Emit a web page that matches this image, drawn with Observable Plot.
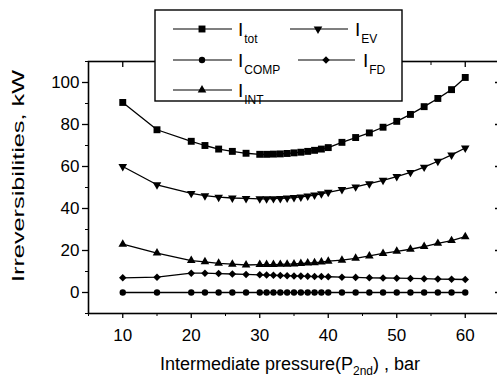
<!DOCTYPE html>
<html><head><meta charset="utf-8">
<script src="https://cdn.jsdelivr.net/npm/d3@7"></script>
<script src="https://cdn.jsdelivr.net/npm/@observablehq/plot@0.6"></script>
<style>html,body{margin:0;padding:0;background:#fff;overflow:hidden;} svg{max-width:none !important;}</style>
</head><body><div id="chart"></div>
<script>
const pressures = [10,15,20,22,24,26,28,30,31,32,33,34,35,36,37,38,39,40,42,44,46,48,50,52,54,56,58,60];
const iTot  = [90.5,77.5,72,70,68.3,67.2,66.3,65.8,65.8,65.9,66,66.2,66.5,66.8,67.2,67.7,68.3,69,71.5,73.8,76,78.7,81.5,84.8,88.5,92.4,96.6,102.4];
const iEV   = [60,51.3,47.2,46.1,45.4,45,44.8,44.6,44.6,44.7,44.8,45,45.2,45.5,45.9,46.4,47,47.7,49,50.3,51.8,53.4,55.2,57.2,59.7,62.5,65.5,68.8];
const iCOMP = [0,0,0,0,0,0,0,0,0,0,0,0,0,0,0,0,0,0,0,0,0,0,0,0,0,0,0,0];
const iFD   = [7,7.3,9.2,9.2,9,8.8,8.6,8.4,8.3,8.2,8.1,8,7.9,7.8,7.7,7.6,7.6,7.5,7.3,7.2,7.0,6.9,6.8,6.7,6.6,6.4,6.3,6.2];
const iINT  = [23,18.8,15.2,14.6,13.9,13.5,13.1,13.3,13.3,13.3,13.4,13.5,13.6,13.8,14,14.2,14.5,14.9,15.4,16.3,17.4,18.6,19.6,20.6,21.9,23.4,24.7,26.6];
const xTicks = [10,20,30,40,50,60];
const xMinor = [5,15,25,35,45,55,65];
const yTicks = [0,20,40,60,80,100];
const yMinor = [-10,10,30,50,70,90,110];
const xTitle = ["Intermediate pressure(P", "2nd", ") , bar"];
const yTitle = "Irreversibilities, kW";

const triangleDown = {draw(c, size){const s3=Math.sqrt(3); const y=-Math.sqrt(size/(s3*3)); c.moveTo(0,-y*2); c.lineTo(-s3*y,y); c.lineTo(s3*y,y); c.closePath();}};
const diamondSq = {draw(c, size){const a=Math.sqrt(size/2); c.moveTo(0,-a); c.lineTo(a,0); c.lineTo(0,a); c.lineTo(-a,0); c.closePath();}};

const series = [
  {key:"tot", sub:"tot", values:iTot, symbol:"square", r:3.9},
  {key:"EV", sub:"EV", values:iEV, symbol:triangleDown, r:3.2},
  {key:"COMP", sub:"COMP", values:iCOMP, symbol:"circle", r:3.2},
  {key:"FD", sub:"FD", values:iFD, symbol:diamondSq, r:3.0},
  {key:"INT", sub:"INT", values:iINT, symbol:"triangle", r:3.2}
];

const font = "'Liberation Sans', Arial, Helvetica, sans-serif";
const marks = [
  Plot.axisX({ticks:xTicks, tickSize:5, tickPadding:10, fontSize:17, label:null, strokeWidth:1.3}),
  Plot.axisX({ticks:xMinor, tickSize:3, tickFormat:()=>"", label:null}),
  Plot.axisX({anchor:"top", ticks:xTicks, tickSize:-5, tickFormat:()=>"", label:null, strokeWidth:1.3}),
  Plot.axisX({anchor:"top", ticks:xMinor, tickSize:-3, tickFormat:()=>"", label:null}),
  Plot.axisY({ticks:yTicks, tickSize:6, tickPadding:3, fontSize:17, label:null, strokeWidth:1.3}),
  Plot.axisY({ticks:yMinor, tickSize:3, tickFormat:()=>"", label:null}),
  Plot.axisY({anchor:"right", ticks:yTicks, tickSize:-5, tickFormat:()=>"", label:null, strokeWidth:1.3}),
  Plot.axisY({anchor:"right", ticks:yMinor, tickSize:-3, tickFormat:()=>"", label:null}),
  Plot.frame({stroke:"black", strokeWidth:1.6})
];
for (const s of series) {
  const data = pressures.map((p,i)=>({p, v:s.values[i]}));
  marks.push(Plot.line(data, {x:"p", y:"v", stroke:"black", strokeWidth:1.3}));
  marks.push(Plot.dot(data, {x:"p", y:"v", symbol:s.symbol, r:s.r, fill:"black", stroke:"none"}));
}

const chart = Plot.plot({
  width:500, height:378,
  marginLeft:88, marginRight:1, marginTop:61, marginBottom:65,
  x:{domain:[5,65]}, y:{domain:[-10,110]},
  style:{fontFamily:font, fontSize:"17px", color:"black", background:"white", maxWidth:"none"},
  marks
});
document.getElementById("chart").appendChild(chart);

const svg = d3.select(chart);
// x title
const xt = svg.append("text").attr("x",290).attr("y",370).attr("text-anchor","middle")
  .attr("font-family",font).attr("font-size",18).attr("fill","black");
xt.append("tspan").text(xTitle[0]);
xt.append("tspan").attr("font-size",12).attr("dy",5).text(xTitle[1]);
xt.append("tspan").attr("dy",-5).text(xTitle[2]);
// y title
svg.append("text").attr("transform","translate(24,176) rotate(-90)").attr("text-anchor","middle")
  .attr("font-family",font).attr("font-size",17).attr("fill","black")
  .attr("textLength",212).attr("lengthAdjust","spacingAndGlyphs").text(yTitle);

// legend
const lg = svg.append("g").attr("text-anchor","start");
lg.append("rect").attr("x",155).attr("y",10).attr("width",247).attr("height",91)
  .attr("fill","white").attr("stroke","black").attr("stroke-width",1.4);
const pos = [
  {x1:173,x2:232,xm:202,xt:238,y:29},
  {x1:290,x2:348,xm:318,xt:355,y:29},
  {x1:173,x2:232,xm:202,xt:238,y:60},
  {x1:298,x2:355,xm:326,xt:363,y:60},
  {x1:173,x2:232,xm:202,xt:238,y:90}
];
series.forEach((s,i)=>{
  const p = pos[i];
  lg.append("line").attr("x1",p.x1).attr("x2",p.x2).attr("y1",p.y).attr("y2",p.y).attr("stroke","black").attr("stroke-width",1.2);
  lg.append("path").attr("transform",`translate(${p.xm},${p.y})`)
    .attr("d", d3.symbol(typeof s.symbol === "string" ? {square:d3.symbolSquare, circle:d3.symbolCircle, triangle:d3.symbolTriangle}[s.symbol] : s.symbol, Math.PI*s.r*s.r)())
    .attr("fill","black");
  const t = lg.append("text").attr("x",p.xt).attr("y",p.y+7).attr("text-anchor","start").attr("font-family",font).attr("font-size",19).attr("fill","black");
  t.append("tspan").text("I");
  t.append("tspan").attr("font-size",12).attr("dx",1).attr("dy",7).text(s.sub);
});
</script></body></html>
